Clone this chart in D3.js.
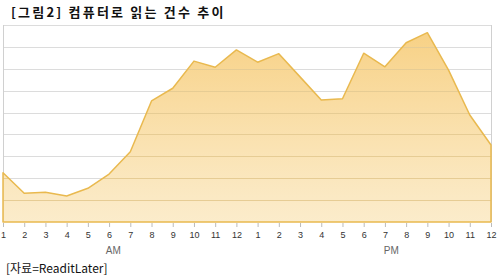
<!DOCTYPE html>
<meta charset="utf-8">
<script src="https://d3js.org/d3.v7.min.js"></script>
<style>
  body { margin: 0; background: #fff; }
  svg text { font-family: "Noto Sans CJK KR", "DejaVu Sans", sans-serif; }
</style>
<div id="chart"></div>
<script>
// hours, AM then PM
var hours = ["1","2","3","4","5","6","7","8","9","10","11","12",
             "1","2","3","4","5","6","7","8","9","10","11","12"];
var counts = [22.5, 13.1, 13.6, 11.9, 15.4, 21.9, 32.1, 55.3, 61.1, 73.5, 70.7, 78.6,
              73.0, 76.9, 66.3, 55.7, 56.3, 77.1, 70.9, 81.9, 86.5, 69.4, 48.9, 35.2];
var gridValues = [10, 20, 30, 40, 50, 60, 70, 80, 90];
var periods = [{label: "AM", pos: 5.2}, {label: "PM", pos: 18.3}];

var W = 500, H = 280;
var plotLeft = 3, plotRight = 491, plotTop = 25, plotBottom = 222;

var svg = d3.select("#chart").append("svg")
  .attr("width", W).attr("height", H);

var x = d3.scaleLinear().domain([0, hours.length - 1]).range([plotLeft, plotRight]);
var y = d3.scaleLinear().domain([0, 90]).range([plotBottom, plotTop]);

var area = d3.area()
  .x(function(d, i) { return x(i); })
  .y0(y(0))
  .y1(function(d) { return y(d); });

var defs = svg.append("defs");
var grad = defs.append("linearGradient")
  .attr("id", "fillGrad").attr("x1", 0).attr("y1", 0).attr("x2", 0).attr("y2", 1);
grad.append("stop").attr("offset", "0%").attr("stop-color", "#f6c970").attr("stop-opacity", 0.85);
grad.append("stop").attr("offset", "100%").attr("stop-color", "#f9dfa8").attr("stop-opacity", 0.6);
defs.append("clipPath").attr("id", "areaClip")
  .append("path").datum(counts).attr("d", area);

function drawGrid(g, color) {
  g.selectAll("line")
    .data(gridValues).enter().append("line")
    .attr("x1", plotLeft).attr("x2", plotRight)
    .attr("y1", function(d) { return Math.round(y(d)) + 0.5; })
    .attr("y2", function(d) { return Math.round(y(d)) + 0.5; })
    .attr("stroke", color).attr("stroke-width", 1);
}

// gridlines on white
drawGrid(svg.append("g"), "#dcdcdc");

// side borders
svg.append("line").attr("x1", plotLeft + 0.5).attr("x2", plotLeft + 0.5)
  .attr("y1", y(90)).attr("y2", plotBottom).attr("stroke", "#d0d0d0");
svg.append("line").attr("x1", plotRight + 0.5).attr("x2", plotRight + 0.5)
  .attr("y1", y(90)).attr("y2", plotBottom).attr("stroke", "#d0d0d0");

// area fill
svg.append("path")
  .datum(counts)
  .attr("d", area)
  .attr("fill", "url(#fillGrad)");

// gridlines showing through the fill
drawGrid(svg.append("g").attr("clip-path", "url(#areaClip)"), "#e6cc94");

// outline
svg.append("path")
  .datum(counts)
  .attr("d", area)
  .attr("fill", "none")
  .attr("stroke", "#e9b94f")
  .attr("stroke-width", 1.5)
  .attr("stroke-linejoin", "round");

// x axis ticks
var xAxis = svg.append("g")
  .attr("transform", "translate(0," + (plotBottom + 1) + ")")
  .call(d3.axisBottom(x)
    .tickValues(d3.range(hours.length))
    .tickFormat(function(i) { return hours[i]; })
    .tickSize(4).tickPadding(5));
xAxis.select(".domain").remove();
xAxis.selectAll("line").attr("stroke", "#bbbbbb");
xAxis.selectAll("text").attr("fill", "#333").style("font-size", "9px")
  .style("font-family", "Arial, 'Liberation Sans', sans-serif");

svg.append("g").selectAll("text")
  .data(periods).enter().append("text")
  .attr("x", function(d) { return x(d.pos); })
  .attr("y", 254)
  .attr("text-anchor", "middle")
  .attr("fill", "#666")
  .style("font-size", "10px")
  .style("font-family", "Arial, 'Liberation Sans', sans-serif")
  .text(function(d) { return d.label; });

// title
svg.append("text")
  .attr("x", 11).attr("y", 17)
  .attr("fill", "#111")
  .style("font-size", "13px")
  .style("font-weight", "bold")
  .style("letter-spacing", "2.2px")
  .text("[그림2] 컴퓨터로 읽는 건수 추이");

// source
svg.append("text")
  .attr("x", 6).attr("y", 273)
  .attr("fill", "#111")
  .style("font-size", "12px")
  .text("[자료=ReaditLater]");
</script>
